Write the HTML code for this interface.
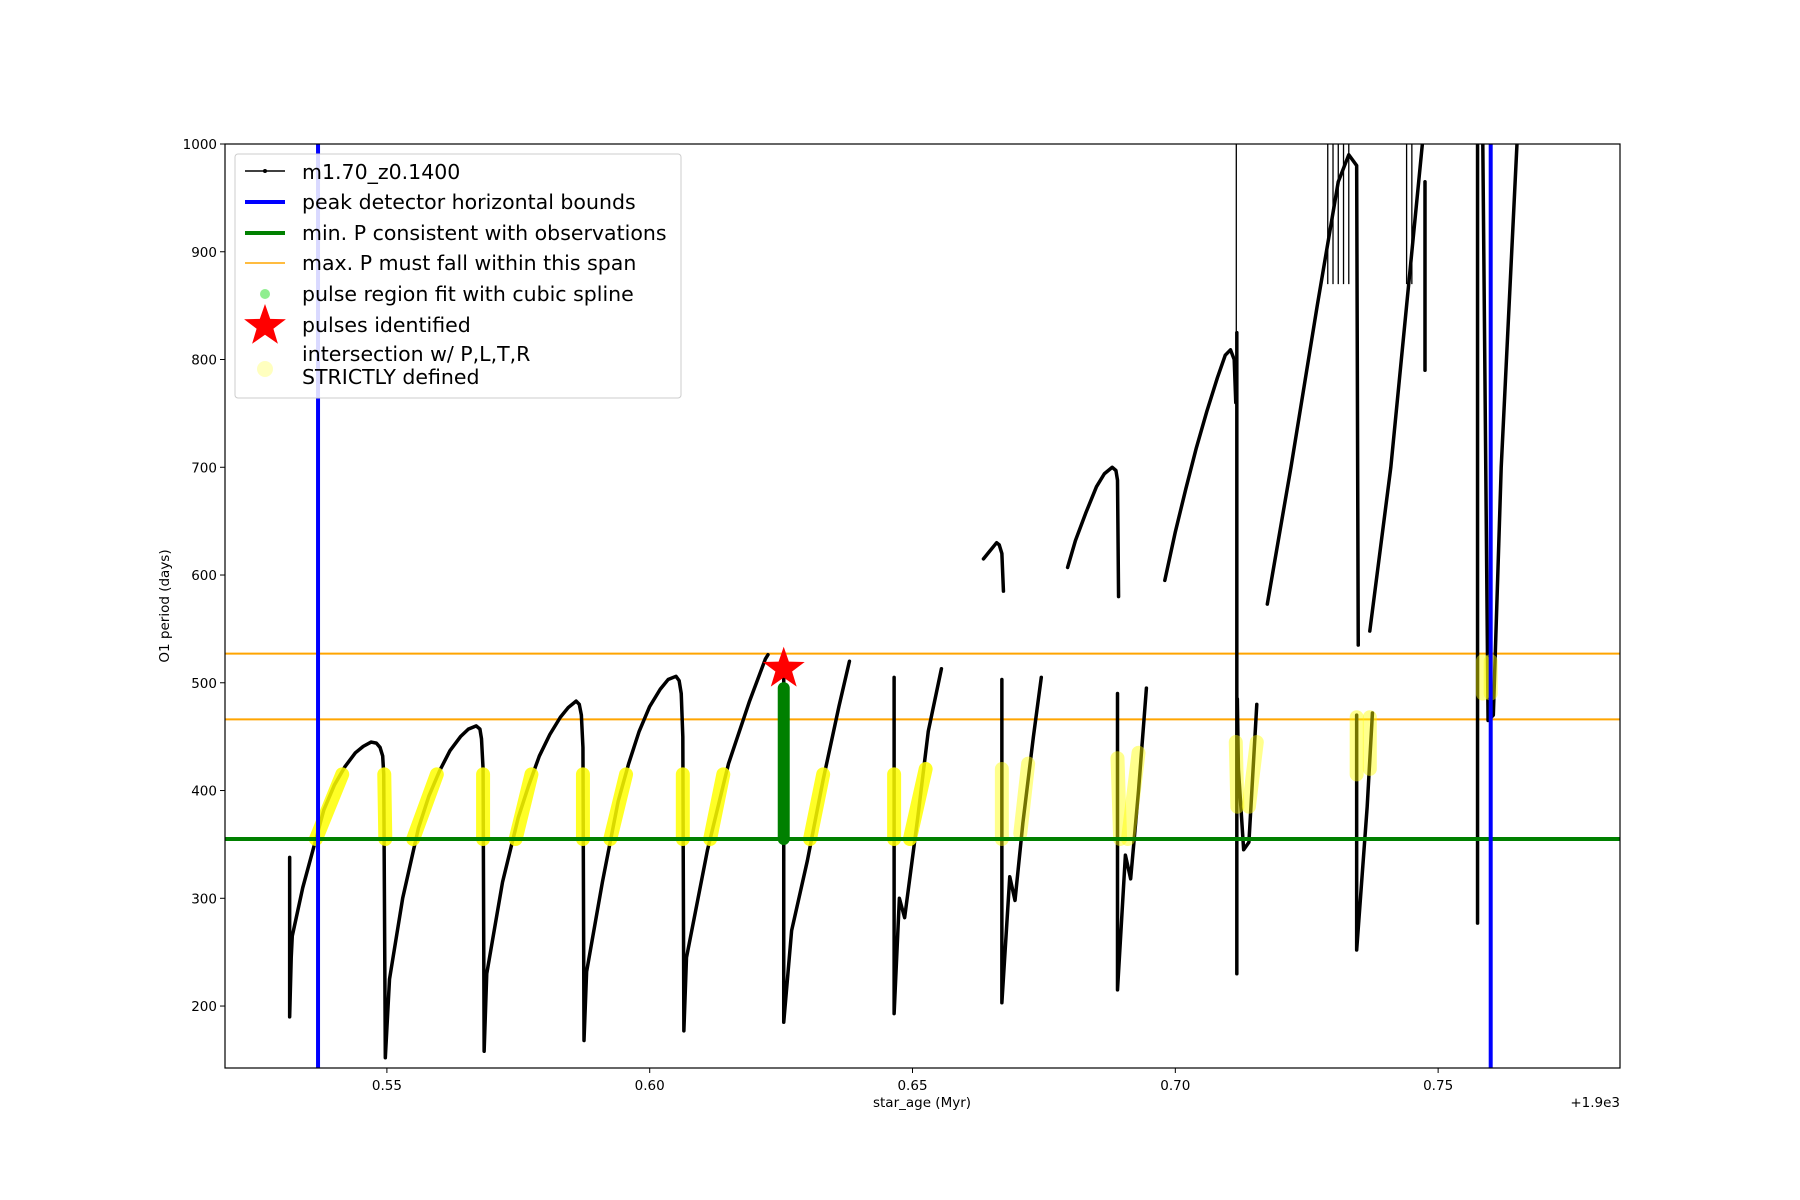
<!DOCTYPE html>
<html><head><meta charset="utf-8"><style>
html,body{margin:0;padding:0;background:#fff;}
svg{display:block;font-family:"DejaVu Sans","Liberation Sans",sans-serif;}
</style></head><body>
<svg id="chart" width="1800" height="1200" viewBox="0 0 1800 1200" xmlns="http://www.w3.org/2000/svg">
<rect x="0" y="0" width="1800" height="1200" fill="#fff"/>
<g id="plot"></g>
<rect x="225" y="144" width="1395" height="924" fill="none" stroke="#000" stroke-width="1.2"/>
<g id="ticks"></g>
<text x="922" y="1107" font-size="13.5" text-anchor="middle">star_age (Myr)</text>
<text x="1620" y="1107" font-size="13.5" text-anchor="end">+1.9e3</text>
<text transform="translate(169,606) rotate(-90)" font-size="13.5" text-anchor="middle">O1 period (days)</text>
<g font-size="20.5">
<rect x="235" y="154" width="446" height="244" rx="3" fill="#fff" fill-opacity="0.85" stroke="#ccc"/>
<g><line x1="245" y1="171" x2="285" y2="171" stroke="#000" stroke-width="1.5"/><circle cx="265" cy="171" r="2" fill="#000"/><text x="302" y="179">m1.70_z0.1400</text></g>
<g><line x1="245" y1="202" x2="285" y2="202" stroke="#0000ff" stroke-width="4"/><text x="302" y="209">peak detector horizontal bounds</text></g>
<g><line x1="245" y1="233" x2="285" y2="233" stroke="#008000" stroke-width="4"/><text x="302" y="240">min. P consistent with observations</text></g>
<g><line x1="245" y1="263" x2="285" y2="263" stroke="orange" stroke-width="1.5"/><text x="302" y="270">max. P must fall within this span</text></g>
<g><circle cx="265" cy="294" r="5" fill="lightgreen"/><text x="302" y="301">pulse region fit with cubic spline</text></g>
<g><polygon id="lstar" fill="red"/><text x="302" y="332">pulses identified</text></g>
<g><circle cx="265" cy="369" r="8" fill="yellow" fill-opacity="0.25"/><text x="302" y="361">intersection w/ P,L,T,R</text><text x="302" y="384">STRICTLY defined</text></g>
</g>
<g id="top"></g>
</svg>
<script>
const xTicks=[0.55,0.60,0.65,0.70,0.75];
const xTickLabels=["0.55","0.60","0.65","0.70","0.75"];
const yTicks=[200,300,400,500,600,700,800,900,1000];
const blueBounds=[0.5369,0.7600];
const minP=[355];
const maxPSpan=[466,527];
// black model track: segments of [age, period] pairs
const track=[
[[0.5315,338],[0.5315,190],[0.5318,245],[0.532,265],[0.534,310],[0.5365,355],[0.538,382],[0.540,405],[0.542,422],[0.544,435],[0.5455,441],[0.547,445],[0.548,444],[0.5487,440],[0.5492,432],[0.5494,415],[0.5497,152],[0.5505,225],[0.553,300],[0.556,365],[0.558,395],[0.560,418],[0.562,437],[0.564,450],[0.5655,457],[0.567,460],[0.5677,457],[0.568,448],[0.5683,420],[0.5685,158],[0.569,230],[0.572,315],[0.575,375],[0.577,405],[0.579,432],[0.581,452],[0.583,468],[0.5845,477],[0.586,483],[0.5866,480],[0.587,470],[0.5873,440],[0.5875,168],[0.588,232],[0.591,315],[0.594,390],[0.596,425],[0.598,455],[0.600,478],[0.602,494],[0.6035,503],[0.605,506],[0.6056,502],[0.606,490],[0.6063,450],[0.6065,177],[0.607,245],[0.611,345],[0.615,425],[0.619,483],[0.622,522],[0.6225,526]],
[[0.6255,505],[0.6255,185],[0.627,270],[0.630,335],[0.633,410],[0.636,478],[0.638,520]],
[[0.6465,505],[0.6465,193],[0.6475,300],[0.6485,282],[0.651,375],[0.653,455],[0.6555,513]],
[[0.6635,615],[0.6645,621],[0.6655,627],[0.666,630],[0.6665,628],[0.667,620],[0.6673,585]],
[[0.667,503],[0.667,203],[0.6685,320],[0.6695,298],[0.671,370],[0.673,450],[0.6745,505]],
[[0.6795,607],[0.681,632],[0.683,658],[0.685,682],[0.6865,694],[0.688,700],[0.6887,697],[0.689,688],[0.6892,580]],
[[0.689,490],[0.689,215],[0.6905,340],[0.6915,318],[0.693,400],[0.6945,495]],
[[0.698,595],[0.700,640],[0.702,680],[0.704,718],[0.706,752],[0.708,783],[0.7095,804],[0.7105,809],[0.7112,800],[0.7115,760]],
[[0.7117,825],[0.7117,230]],
[[0.7118,485],[0.712,420],[0.713,345],[0.714,352],[0.7155,480]],
[[0.7175,573],[0.722,700],[0.727,850],[0.731,965],[0.733,990],[0.7345,980],[0.7348,535]],
[[0.7345,470],[0.7345,252],[0.7365,385],[0.7375,472]],
[[0.737,548],[0.741,700],[0.745,900],[0.747,1000]],
[[0.7475,965],[0.7475,790]],
[[0.7575,1000],[0.7575,277]],
[[0.7585,1000],[0.7595,465],[0.7605,470],[0.762,700],[0.764,900],[0.765,1000]]
];
// thin verticals
const spikes=[0.7116,0.7290,0.7300,0.7310,0.7320,0.7330,0.7440,0.7450];
const spikeLow=[480,870,870,870,870,870,870,870];
// yellow segments [age0,P0,age1,P1]
const yellowSegs=[[0.5365,355,0.5415,415],[0.5497,355,0.5495,415],[0.555,355,0.5595,415],[0.5683,355,0.5683,415],[0.5745,355,0.5775,415],[0.5873,355,0.5873,415],[0.5925,355,0.5955,415],[0.6063,355,0.6063,415],[0.6115,355,0.614,415],[0.6305,355,0.633,415],[0.6465,355,0.6465,415],[0.6495,355,0.6525,420],[0.667,355,0.667,420],[0.6705,360,0.672,425],[0.6895,355,0.689,430],[0.691,355,0.693,435],[0.7118,385,0.7115,445],[0.714,385,0.7155,445],[0.7345,415,0.7345,468],[0.737,420,0.737,468],[0.7585,490,0.7585,520],[0.7600,490,0.7600,520]];
const faded=[0,0,0,0,0,0,0,0,0,0,0,0,1,1,1,1,1,1,1,1,1,1];
const greenPulse=[0.6255,355,495];
const starPt=[0.6255,513];

const X0=0.5192,X1=0.7846,Y0=142.5,Y1=1000;
const L=225,R=1620,T=144,B=1068;
const sx=v=>L+(v-X0)/(X1-X0)*(R-L);
const sy=v=>B-(v-Y0)/(Y1-Y0)*(B-T);
const NS="http://www.w3.org/2000/svg";
const plot=document.getElementById('plot'),ticks=document.getElementById('ticks');
function mk(t,a,p){const e=document.createElementNS(NS,t);for(const k in a)e.setAttribute(k,a[k]);p.appendChild(e);return e;}
const clip=mk('clipPath',{id:'cp'},plot);mk('rect',{x:L,y:T,width:R-L,height:B-T},clip);
const g=mk('g',{'clip-path':'url(#cp)'},plot);

maxPSpan.forEach(p=>{const e=mk('line',{x1:L,x2:R,y1:sy(p),y2:sy(p),stroke:'orange','stroke-width':2},g);

});
spikes.forEach((s,i)=>{const e=mk('line',{x1:sx(s),x2:sx(s),y1:sy(1000),y2:sy(spikeLow[i]),stroke:'#000','stroke-width':1.3},g);

});
track.forEach(seg=>{const e=mk('polyline',{points:seg.map(p=>sx(p[0])+','+sy(p[1])).join(' '),fill:'none',stroke:'#000','stroke-width':3.5,'stroke-linejoin':'round','stroke-linecap':'round'},g);

});
yellowSegs.forEach((s,i)=>{const e=mk('line',{x1:sx(s[0]),y1:sy(s[1]),x2:sx(s[2]),y2:sy(s[3]),stroke:'yellow','stroke-width':14,'stroke-linecap':'round','stroke-opacity':faded[i]?0.45:0.85},g);

});
{const e=mk('line',{x1:sx(greenPulse[0]),x2:sx(greenPulse[0]),y1:sy(greenPulse[1]),y2:sy(greenPulse[2]),stroke:'#008000','stroke-width':12,'stroke-linecap':'round'},g);

}
{const e=mk('line',{x1:L,x2:R,y1:sy(minP[0]),y2:sy(minP[0]),stroke:'#008000','stroke-width':4},g);

}
blueBounds.forEach(b=>{const e=mk('line',{x1:sx(b),x2:sx(b),y1:T,y2:B,stroke:'#0000ff','stroke-width':4},g);

});
function star(cx,cy,r){let pts=[];for(let i=0;i<10;i++){const a=-Math.PI/2+i*Math.PI/5,rr=i%2?r*0.4:r;pts.push((cx+rr*Math.cos(a)).toFixed(1)+','+(cy+rr*Math.sin(a)).toFixed(1));}return pts.join(' ');}
{const e=mk('polygon',{points:star(sx(starPt[0]),sy(starPt[1]),22),fill:'red'},g);

}
document.getElementById('lstar').setAttribute('points',star(265,326,22));
xTicks.forEach((v,i)=>{const x=sx(v);mk('line',{x1:x,x2:x,y1:B,y2:B+5,stroke:'#000'},ticks);
const t=mk('text',{x:x,y:B+22,'font-size':13.5,'text-anchor':'middle'},ticks);t.textContent=xTickLabels[i];

});
yTicks.forEach(v=>{const y=sy(v);mk('line',{x1:L-5,x2:L,y1:y,y2:y,stroke:'#000'},ticks);
const t=mk('text',{x:L-8,y:y+5,'font-size':13.5,'text-anchor':'end'},ticks);t.textContent=v;

});
</script>
</body></html>
